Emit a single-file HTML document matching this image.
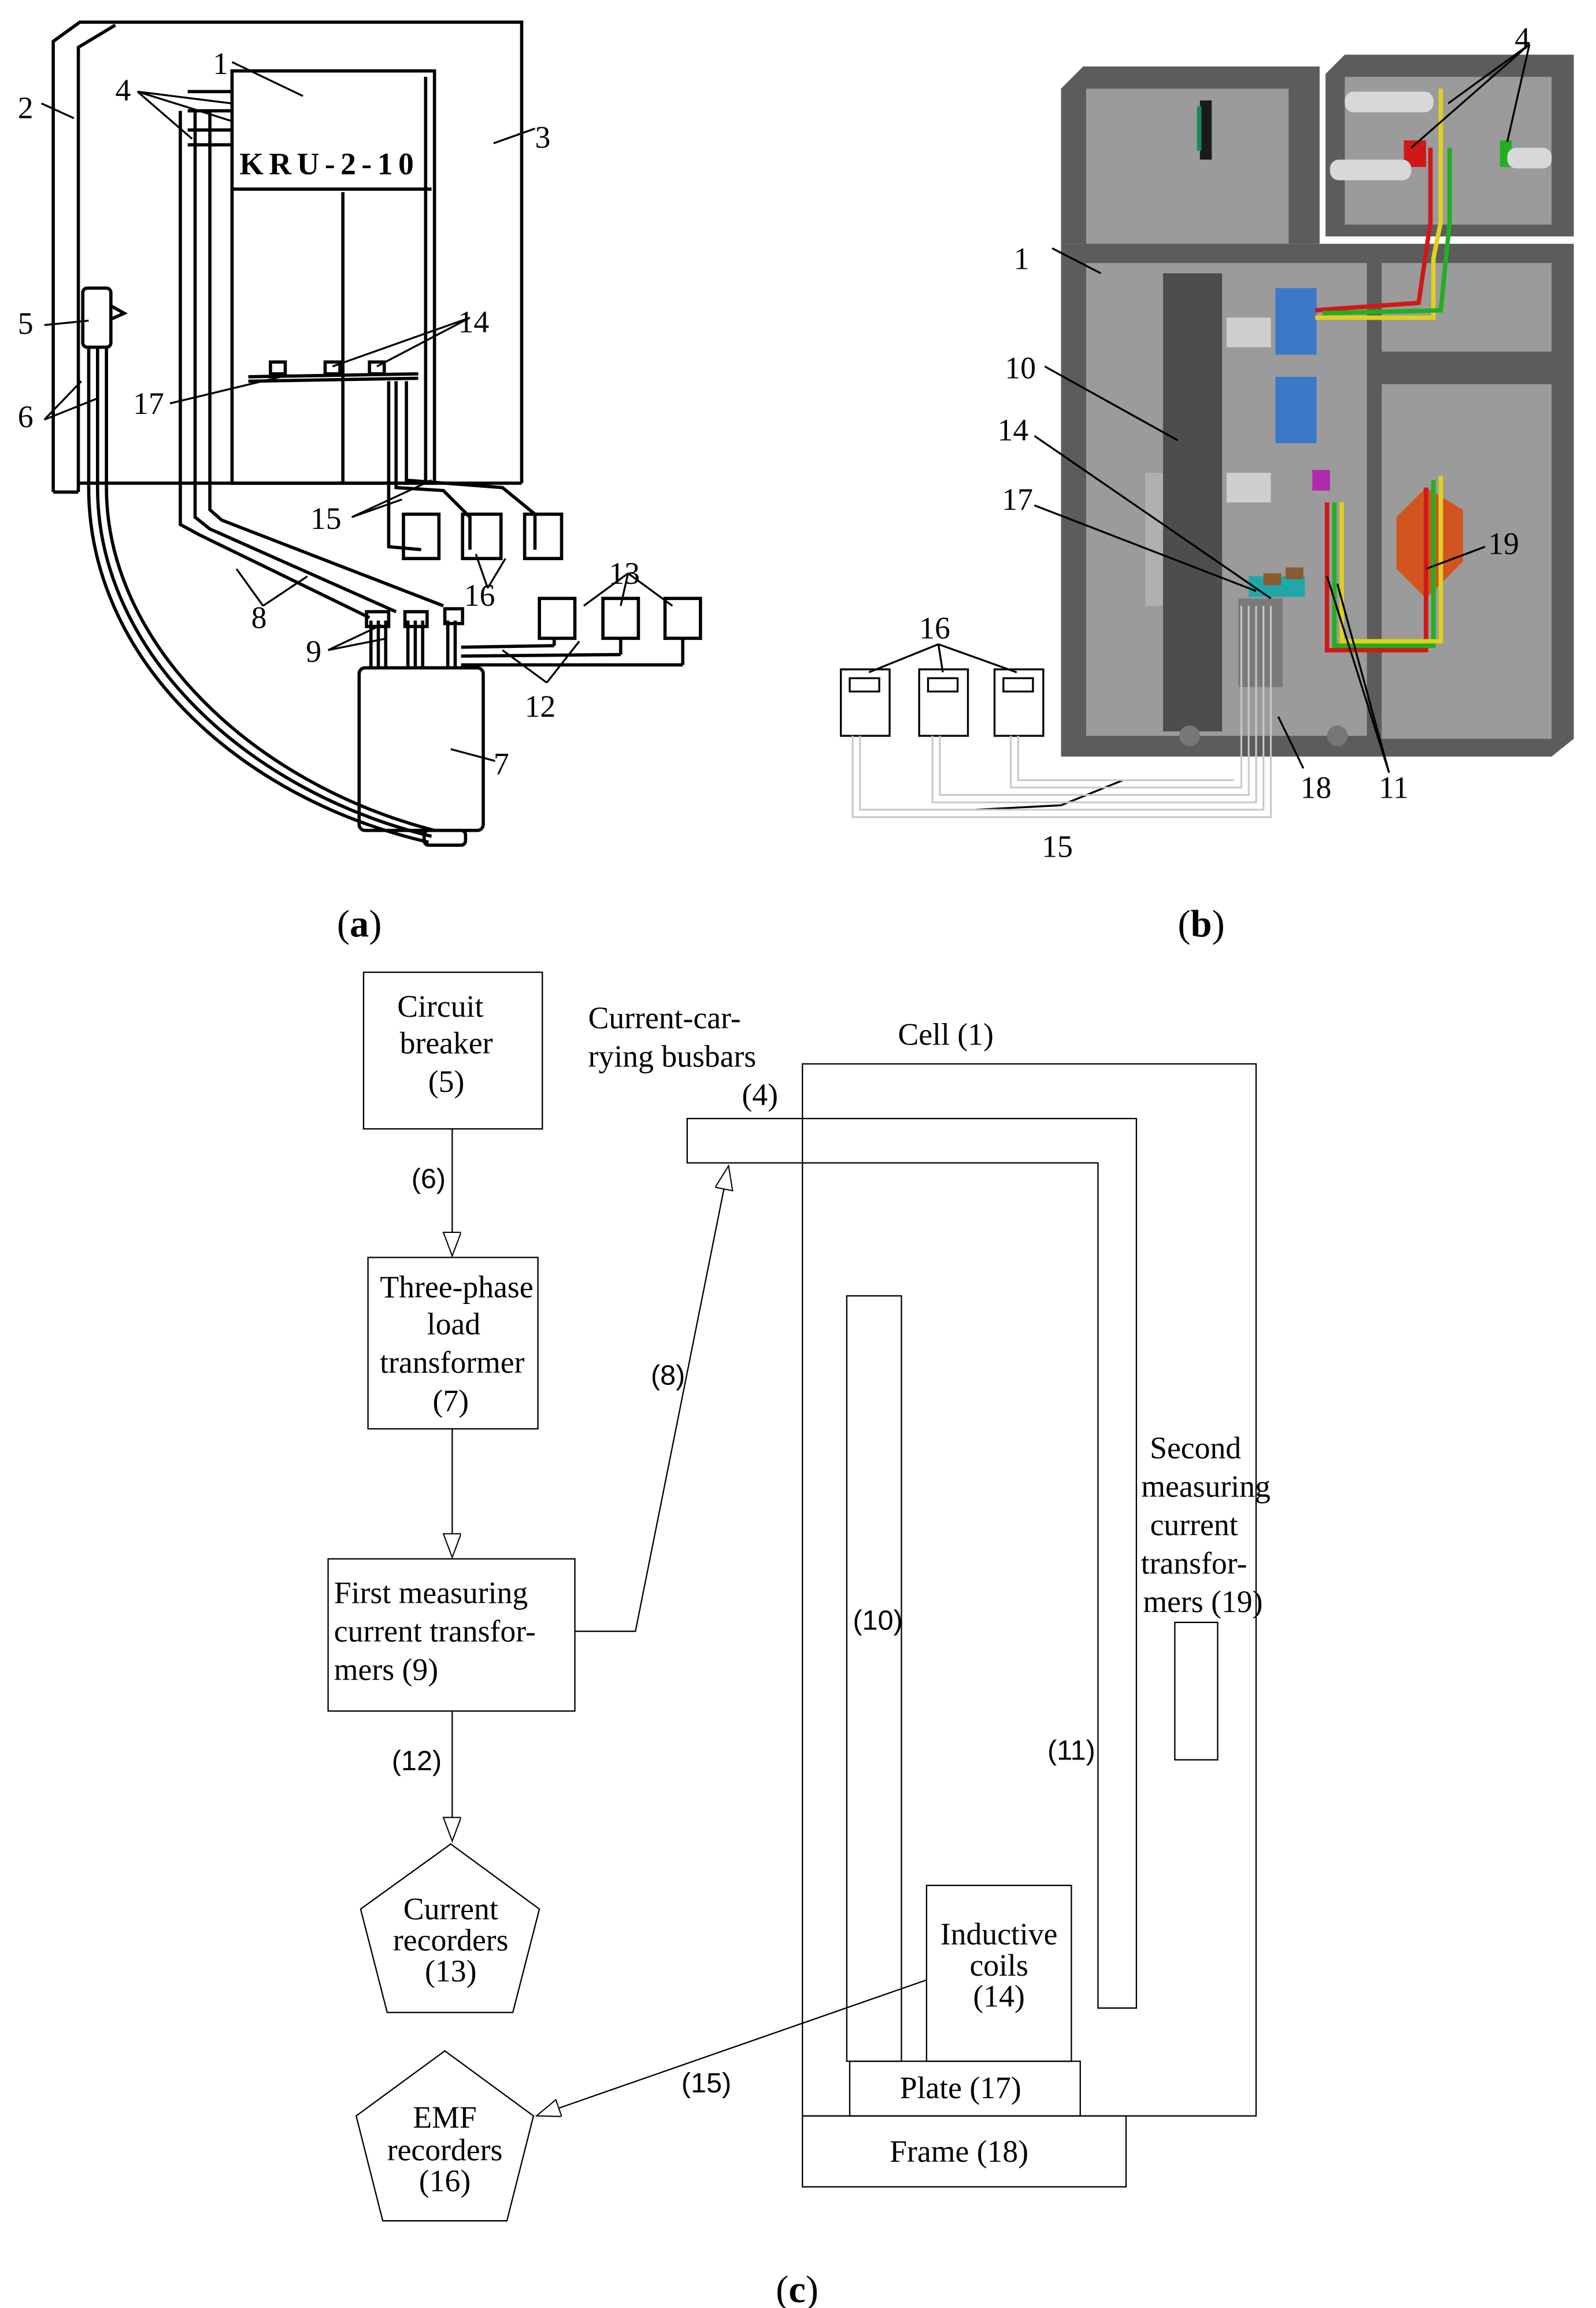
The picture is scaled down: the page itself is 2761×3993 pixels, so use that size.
<!DOCTYPE html>
<html><head><meta charset="utf-8"><style>
html,body{margin:0;padding:0;background:#fff;}
svg{display:block;}
.s{font-family:"Liberation Serif",serif;fill:#000;}
.a{font-family:"Liberation Sans",sans-serif;fill:#000;}
</style></head><body>
<svg width="2761" height="3993" viewBox="0 0 1080 1562" xmlns="http://www.w3.org/2000/svg">
<rect width="1080" height="1562" fill="#fff"/>
<defs><marker id="ar" markerWidth="20" markerHeight="20" refX="17" refY="6" orient="auto" markerUnits="userSpaceOnUse"><path d="M1,0 L17,6 L1,12 Z" fill="#fff" stroke="#000" stroke-width="0.8"/></marker></defs>

<!-- PANEL A -->
<g fill="none" stroke="#000" stroke-width="2.2">
<path d="M36,333 L36,28 L54,15 L353,15 L353,327"/>
<path d="M53,333 L53,32 L78,17"/>
<path d="M36,333 L53,333 M53,327 L353,327"/>
<rect x="157" y="48" width="137" height="279"/>
<path d="M157,128 L292,128 M232,130 L232,327 M288,52 L288,327"/>
<rect x="56" y="195" width="19" height="40" rx="3"/>
<path d="M75,207 L84,212 L75,216"/>
<path d="M60,235 L60,330 C60,445 160,540 290,570 M66,235 L66,330 C66,440 165,535 292,566 M72,235 L72,330 C72,435 170,530 294,562"/>
<rect x="287" y="562" width="28" height="10" rx="3"/>
<path d="M122,75 L122,355 L135,362 L250,418 M132,75 L132,350 L142,358 L268,414 M142,75 L142,345 L150,352 L300,410"/>
<path d="M127,62 L157,62 M127,75 L157,75 M127,88 L157,88 M127,98 L157,98"/>
<rect x="243" y="452" width="84" height="110" rx="4"/>
<path d="M251,420 L251,452 M256,420 L256,452 M261,420 L261,452 M276,420 L276,452 M281,420 L281,452 M286,420 L286,452 M303,420 L303,452 M308,420 L308,452"/>
<rect x="248" y="414" width="15" height="10"/><rect x="274" y="414" width="15" height="10"/><rect x="301" y="412" width="12" height="10"/>
<path d="M312,438 L375,437 M312,444 L420,443 M312,450 L462,450 M375,432 L375,437 M420,432 L420,443 M462,432 L462,450"/>
<rect x="365" y="405" width="24" height="27"/><rect x="408" y="405" width="24" height="27"/><rect x="450" y="405" width="24" height="27"/>
<path d="M168,255 L283,253 M168,258 L283,256"/>
<rect x="183" y="245" width="10" height="8"/><rect x="220" y="245" width="10" height="8"/><rect x="250" y="245" width="10" height="8"/>
<path d="M263,258 L263,370 L285,372 M268,258 L268,330 L300,332 L318,350 L318,372 M275,258 L275,325 L340,330 L362,348 L362,372"/>
<rect x="273" y="348" width="24" height="30"/><rect x="313" y="348" width="26" height="30"/><rect x="355" y="348" width="25" height="30"/>
</g>
<g stroke="#000" stroke-width="1.3">
<path d="M157,42 L205,65 M93,62 L157,70 M93,62 L157,82 M93,62 L130,94 M28,70 L50,80 M334,97 L362,87 M30,220 L60,217 M30,284 L55,258 M30,284 L65,270 M115,273 L190,255 M318,215 L255,248 M318,215 L225,248 M238,350 L272,338 M238,350 L292,325 M330,398 L322,375 M330,398 L342,378 M178,410 L160,385 M178,410 L208,390 M222,440 L258,423 M222,440 L262,432 M370,462 L340,440 M370,462 L392,434 M425,388 L395,410 M425,388 L420,410 M425,388 L455,410 M305,507 L335,515"/>
</g>
<g class="s" font-size="21">
<text x="144" y="50">1</text><text x="12" y="80">2</text><text x="362" y="100">3</text><text x="78" y="68">4</text>
<text x="12" y="226">5</text><text x="12" y="289">6</text><text x="334" y="524">7</text><text x="170" y="425">8</text>
<text x="207" y="448">9</text><text x="355" y="485">12</text><text x="412" y="395">13</text><text x="310" y="225">14</text>
<text x="210" y="358">15</text><text x="314" y="410">16</text><text x="90" y="280">17</text>
</g>
<text x="162" y="118" class="s" font-size="21" font-weight="bold" textLength="118">KRU-2-10</text>

<!-- PANEL B -->
<g stroke="none">
<path d="M718,60 L733,45 L893,45 L893,165 L718,165 Z" fill="#5c5c5c"/>
<rect x="735" y="60" width="137" height="105" fill="#9b9b9b"/>
<path d="M897,50 L910,37 L1065,37 L1065,160 L897,160 Z" fill="#5c5c5c"/>
<rect x="910" y="52" width="140" height="100" fill="#9b9b9b"/>
<path d="M718,165 L1065,165 L1065,500 L1050,512 L718,512 Z" fill="#5c5c5c"/>
<rect x="735" y="178" width="190" height="320" fill="#9b9b9b"/>
<rect x="935" y="178" width="115" height="60" fill="#9b9b9b"/>
<rect x="935" y="260" width="115" height="240" fill="#9b9b9b"/>
<rect x="787" y="185" width="40" height="310" fill="#4d4d4d"/>
<rect x="775" y="320" width="12" height="90" fill="#b0b0b0"/>
<rect x="812" y="68" width="8" height="40" fill="#1a1a1a"/><rect x="810" y="72" width="3" height="30" fill="#1a8a5a"/>
<rect x="863" y="195" width="28" height="45" fill="#3b78c8"/><rect x="863" y="255" width="28" height="45" fill="#3b78c8"/>
<rect x="830" y="215" width="30" height="20" fill="#cfcfcf"/><rect x="830" y="320" width="30" height="20" fill="#cfcfcf"/>
<rect x="888" y="318" width="12" height="14" fill="#b02ab0"/>
<path d="M945,350 L965,330 L990,345 L990,380 L965,405 L945,385 Z" fill="#d2541e"/>
<rect x="845" y="390" width="38" height="14" fill="#20a8a8"/><rect x="855" y="388" width="12" height="8" fill="#8a5a30"/><rect x="870" y="384" width="12" height="8" fill="#8a5a30"/>
<rect x="838" y="405" width="30" height="60" fill="#7a7a7a"/>
<circle cx="805" cy="498" r="7" fill="#777"/><circle cx="905" cy="498" r="7" fill="#777"/>
</g>
<g fill="none" stroke-width="3">
<path d="M975,60 L975,150 L970,175 L970,215 L940,215 L890,215" stroke="#e0d020"/>
<path d="M968,100 L968,150 L960,205 L890,210" stroke="#d01818"/>
<path d="M981,100 L981,150 L975,210 L895,212" stroke="#20b020"/>
<path d="M898,340 L898,440 L965,440 L965,330" stroke="#d01818"/>
<path d="M903,340 L903,437 L970,437 L970,325" stroke="#20b020"/>
<path d="M908,340 L908,434 L975,434 L975,322" stroke="#e0d020"/>
</g>
<rect x="950" y="95" width="15" height="18" fill="#d01818"/><rect x="1015" y="95" width="8" height="18" fill="#20b020"/>
<g fill="#d8d8d8"><rect x="910" y="62" width="60" height="14" rx="6"/><rect x="900" y="108" width="55" height="14" rx="6"/><rect x="1020" y="100" width="30" height="14" rx="6"/></g>
<g fill="none" stroke="#000" stroke-width="1.3">
<rect x="569" y="453" width="33" height="45"/><rect x="622" y="453" width="33" height="45"/><rect x="673" y="453" width="33" height="45"/>
<rect x="575" y="459" width="20" height="9"/><rect x="628" y="459" width="20" height="9"/><rect x="679" y="459" width="20" height="9"/>
<path d="M635,436 L588,455 M635,436 L638,455 M635,436 L688,455 M718,545 L660,548 M718,545 L760,528 M712,168 L745,185 M707,248 L797,298 M700,295 L860,405 M700,342 L850,400 M965,385 L1005,370 M882,520 L865,485 M940,523 L905,395 M940,523 L898,390 M1035,30 L980,70 M1035,30 L955,100 M1035,30 L1020,96"/>
</g>
<g fill="none" stroke="#c8c8c8" stroke-width="1.2">
<path d="M577,498 L577,553 L860,553 L860,410 M582,498 L582,548 L855,548 L855,410 M631,498 L631,543 L850,543 L850,410 M636,498 L636,538 L845,538 L845,410 M684,498 L684,533 L840,533 L840,410 M689,498 L689,528 L835,528"/>
</g>
<g class="s" font-size="21">
<text x="1025" y="33">4</text><text x="686" y="182">1</text><text x="680" y="256">10</text><text x="675" y="298">14</text>
<text x="678" y="345">17</text><text x="622" y="432">16</text><text x="705" y="580">15</text><text x="880" y="540">18</text>
<text x="933" y="540">11</text><text x="1007" y="375">19</text>
</g>

<!-- captions -->
<g class="s" font-size="26">
<text x="228" y="634">(<tspan font-weight="bold">a</tspan>)</text>
<text x="797" y="634">(<tspan font-weight="bold">b</tspan>)</text>
<text x="525" y="1558">(<tspan font-weight="bold">c</tspan>)</text>
</g>

<!-- PANEL C -->
<g fill="none" stroke="#000" stroke-width="0.9">
<rect x="246" y="658" width="121" height="106"/>
<rect x="249" y="851" width="115" height="116"/>
<rect x="222" y="1055" width="167" height="103"/>
<path d="M305,1248 L365,1292 L347,1362 L262,1362 L244,1292 Z"/>
<path d="M301,1388 L361,1432 L343,1503 L259,1503 L241,1432 Z"/>
<rect x="543" y="720" width="307" height="712"/>
<path d="M465,757 L769,757 L769,1359 L743,1359 L743,787 L465,787 Z"/>
<rect x="573" y="877" width="37" height="518"/>
<rect x="795" y="1098" width="29" height="93"/>
<rect x="627" y="1276" width="98" height="119"/>
<rect x="575" y="1395" width="156" height="37"/>
<rect x="543" y="1432" width="219" height="48"/>
<path d="M306,764 L306,850" marker-end="url(#ar)"/>
<path d="M306,967 L306,1054" marker-end="url(#ar)"/>
<path d="M306,1158 L306,1246" marker-end="url(#ar)"/>
<path d="M389,1104 L430,1104 L493,789" marker-end="url(#ar)"/>
<path d="M627,1340 L363,1432" marker-end="url(#ar)"/>
</g>
<g class="s" font-size="21" text-anchor="middle">
<text x="298" y="688">Circuit</text><text x="302" y="713">breaker</text><text x="302" y="739">(5)</text>
<text x="309" y="878">Three-phase</text><text x="307" y="903">load</text><text x="306" y="929">transformer</text><text x="305" y="955">(7)</text>
<text x="305" y="1299">Current</text><text x="305" y="1320">recorders</text><text x="305" y="1341">(13)</text>
<text x="301" y="1440">EMF</text><text x="301" y="1462">recorders</text><text x="301" y="1483">(16)</text>
<text x="640" y="707">Cell (1)</text>
<text x="809" y="987">Second</text><text x="816" y="1013">measuring</text><text x="808" y="1039">current</text><text x="808" y="1065">transfor-</text><text x="814" y="1091">mers (19)</text>
<text x="676" y="1316">Inductive</text><text x="676" y="1337">coils</text><text x="676" y="1358">(14)</text>
<text x="650" y="1420">Plate (17)</text><text x="649" y="1463">Frame (18)</text>
</g>
<g class="s" font-size="21">
<text x="226" y="1085">First measuring</text><text x="226" y="1111">current transfor-</text><text x="226" y="1137">mers (9)</text>
<text x="398" y="696">Current-car-</text><text x="398" y="722">rying busbars</text><text x="502" y="748">(4)</text>
</g>
<g class="a" font-size="19" text-anchor="middle">
<text x="290" y="804">(6)</text><text x="452" y="937">(8)</text><text x="282" y="1198">(12)</text>
<text x="594" y="1103">(10)</text><text x="725" y="1191">(11)</text><text x="478" y="1416">(15)</text>
</g>
</svg>
</body></html>
